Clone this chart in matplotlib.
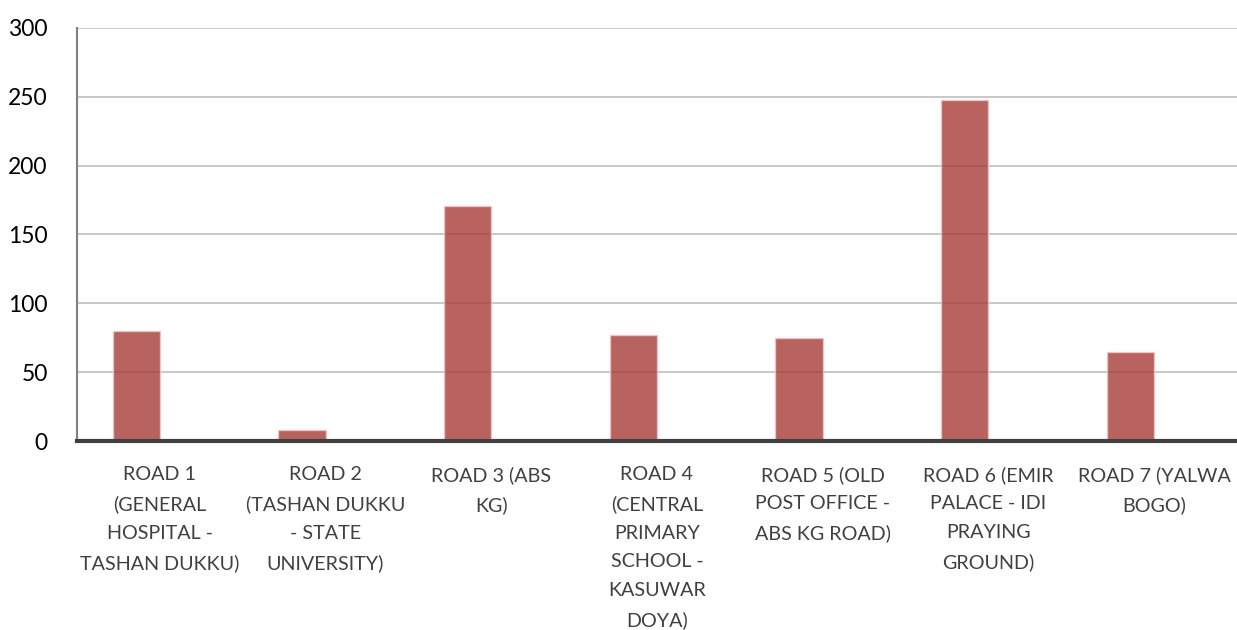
import matplotlib.pyplot as plt
import numpy as np

# Road labels and counts
roads = [
    "ROAD 1\n(GENERAL\nHOSPITAL -\nTASHAN DUKKU)",
    "ROAD 2\n(TASHAN DUKKU\n- STATE\nUNIVERSITY)",
    "ROAD 3 (ABS\nKG)",
    "ROAD 4\n(CENTRAL\nPRIMARY\nSCHOOL -\nKASUWAR\nDOYA)",
    "ROAD 5 (OLD\nPOST OFFICE -\nABS KG ROAD)",
    "ROAD 6 (EMIR\nPALACE - IDI\nPRAYING\nGROUND)",
    "ROAD 7 (YALWA\nBOGO)",
]
values = [80, 8, 171, 77, 75, 248, 65]
y_ticks = [0, 50, 100, 150, 200, 250, 300]

plt.rcParams['font.family'] = ['Lato', 'DejaVu Sans']

fig = plt.figure(figsize=(12.37, 6.3), dpi=100)
ax = fig.add_axes([0.0622, 0.3, 0.9378, 0.6556])

x = np.arange(len(roads))
bar_w = 0.285
ax.bar(x - bar_w / 2, values, width=bar_w, color='#a83c38', alpha=0.8,
       edgecolor='#f0c8c8', linewidth=1.0, zorder=3)

ax.set_xlim(-0.5, len(roads) - 0.5)
ax.set_ylim(0, 300)
ax.set_yticks(y_ticks)
ax.set_yticklabels([str(v) for v in y_ticks], fontsize=16.5, color='#000000')
ax.set_xticks(x)
ax.set_xticklabels(roads, fontsize=14.2, color='#404040', linespacing=1.82,
                   va='top', ha='center')

ax.tick_params(axis='y', length=0, pad=21)
ax.tick_params(axis='x', length=0, pad=18)

ax.yaxis.grid(True, color='#bfbfbf', linewidth=1.2, zorder=0)
ax.set_axisbelow(True)

for side in ['top', 'right']:
    ax.spines[side].set_visible(False)
ax.spines['left'].set_color('#808080')
ax.spines['left'].set_linewidth(1.5)
ax.spines['bottom'].set_color('#404040')
ax.spines['bottom'].set_linewidth(3)
ax.spines['bottom'].set_zorder(4)

fig.savefig("out.png", dpi=100)
